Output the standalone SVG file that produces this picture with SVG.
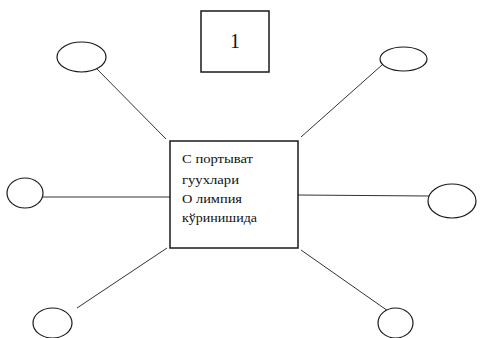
<svg xmlns="http://www.w3.org/2000/svg" width="480" height="338" viewBox="0 0 480 338">
<style>
.bg{fill:#fff}
.box{fill:#fff;stroke:#1a1a1a;stroke-width:1.5}
.ell{fill:#fff;stroke:#1a1a1a;stroke-width:1.2}
.con line{stroke:#333;stroke-width:1}
.t{font-family:"Liberation Serif","DejaVu Serif",serif;font-size:12px;fill:#111}
.num{font-family:"Liberation Serif","DejaVu Serif",serif;font-size:20px;fill:#111}
</style>
<rect class="bg" x="0" y="0" width="480" height="338"/>
<g id="connectors" class="con">
<line x1="95" y1="67" x2="166" y2="139"/>
<line x1="382" y1="65" x2="301" y2="137"/>
<line x1="40" y1="197" x2="170" y2="197"/>
<line x1="298" y1="195" x2="430" y2="196"/>
<line x1="167" y1="248" x2="77" y2="308"/>
<line x1="301" y1="250" x2="388" y2="311"/>
</g>
<g id="label1">
<rect class="box" x="201" y="11" width="68" height="61"/>
<text class="num" x="235" y="48" text-anchor="middle">1</text>
</g>
<g id="center">
<rect class="box" x="170" y="141" width="128" height="107"/>
<text class="t" x="182" y="163" textLength="71" lengthAdjust="spacingAndGlyphs">С портыват</text>
<text class="t" x="182" y="184" textLength="57" lengthAdjust="spacingAndGlyphs">гуухлари</text>
<text class="t" x="182" y="203" textLength="60" lengthAdjust="spacingAndGlyphs">О лимпия</text>
<text class="t" x="182" y="222" textLength="75" lengthAdjust="spacingAndGlyphs">кўринишида</text>
</g>
<g id="n-top-left"><ellipse class="ell" cx="81.5" cy="57" rx="24.5" ry="15"/></g>
<g id="n-top-right"><ellipse class="ell" cx="403.5" cy="59" rx="23.5" ry="12"/></g>
<g id="n-left"><ellipse class="ell" cx="25" cy="193" rx="18" ry="15"/></g>
<g id="n-right"><ellipse class="ell" cx="452" cy="201" rx="24" ry="17"/></g>
<g id="n-bottom-left"><ellipse class="ell" cx="52.5" cy="323" rx="19.5" ry="15"/></g>
<g id="n-bottom-right"><ellipse class="ell" cx="395.5" cy="323" rx="17.5" ry="15"/></g>
</svg>
